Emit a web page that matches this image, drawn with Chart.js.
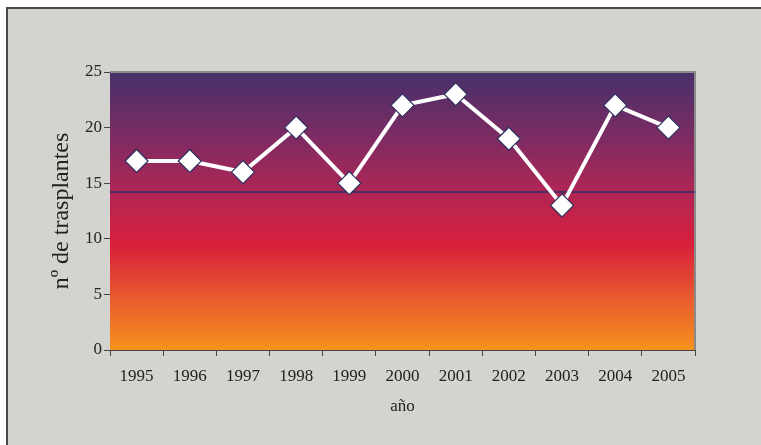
<!DOCTYPE html>
<html>
<head>
<meta charset="utf-8">
<script src="https://cdn.jsdelivr.net/npm/chart.js@4/dist/chart.umd.min.js"></script>
<style>
  html, body { margin: 0; padding: 0; background: #ffffff; overflow: hidden; width: 761px; height: 445px; }
  #marco {
    position: absolute; left: 6px; top: 7px; width: 1200px; height: 900px;
    background: #d3d3cf; border-top: 2px solid #4a4a4a; border-left: 2px solid #4a4a4a;
  }
  #wrap { position: absolute; left: 0; top: 0; width: 761px; height: 445px; }
</style>
</head>
<body>
<div id="marco"></div>
<div id="wrap"><canvas id="graph" width="761" height="445"></canvas></div>
<script>
// datos
var anios = ['1995', '1996', '1997', '1998', '1999', '2000', '2001', '2002', '2003', '2004', '2005'];
var trasplantes = [17, 17, 16, 20, 15, 22, 23, 19, 13, 22, 20];
var nivelRef = 14.2; // línea horizontal de referencia
var ticksY = [0, 5, 10, 15, 20, 25];

var fuente = "'Liberation Serif', 'Times New Roman', serif";

// fondo degradado + marco del área de trazado
var fondoPlugin = {
  id: 'fondo',
  beforeDatasetsDraw: function(chart) {
    var ctx = chart.ctx, a = chart.chartArea;
    var g = ctx.createLinearGradient(0, a.top, 0, a.bottom);
    g.addColorStop(0, '#47306a');
    g.addColorStop(0.25, '#802b62');
    g.addColorStop(0.45, '#b52553');
    g.addColorStop(0.62, '#d81f3b');
    g.addColorStop(0.82, '#e85d2d');
    g.addColorStop(1, '#f7911d');
    ctx.save();
    ctx.fillStyle = g;
    ctx.fillRect(a.left, a.top, a.right - a.left, a.bottom - a.top);
    // borde superior y derecho
    ctx.strokeStyle = '#8a8a8a';
    ctx.lineWidth = 2;
    ctx.beginPath();
    ctx.moveTo(a.left, a.top);
    ctx.lineTo(a.right, a.top);
    ctx.lineTo(a.right, a.bottom);
    ctx.stroke();
    // línea de referencia
    var y = chart.scales.y.getPixelForValue(nivelRef);
    ctx.strokeStyle = '#2b2f6b';
    ctx.lineWidth = 1.5;
    ctx.beginPath();
    ctx.moveTo(a.left, y);
    ctx.lineTo(a.right, y);
    ctx.stroke();
    ctx.restore();
  }
};

var ctx = document.getElementById('graph').getContext('2d');
var grafico = new Chart(ctx, {
  type: 'line',
  data: {
    labels: anios,
    datasets: [{
      data: trasplantes,
      borderColor: '#ffffff',
      borderWidth: 4,
      pointStyle: 'rectRot',
      pointRadius: 11.5,
      pointBackgroundColor: '#ffffff',
      pointBorderColor: '#2e3060',
      pointBorderWidth: 1.2,
      tension: 0,
      fill: false
    }]
  },
  options: {
    responsive: false,
    animation: false,
    layout: { padding: { left: 40, right: 66, top: 72, bottom: 0 } },
    plugins: {
      legend: { display: false },
      tooltip: { enabled: false },
      title: { display: false }
    },
    scales: {
      x: {
        offset: true,
        grid: { display: true, offset: true, drawOnChartArea: false, tickLength: 6, color: '#444', tickColor: '#444' },
        border: { display: true, color: '#444', width: 1 },
        ticks: { color: '#222', font: { family: fuente, size: 17 }, padding: 10, maxRotation: 0 },
        title: { display: true, text: 'año', color: '#222', font: { family: fuente, size: 17 }, padding: { top: 0, bottom: 28 } },
        afterFit: function(s) { s.height = 95; }
      },
      y: {
        min: 0,
        max: 25,
        afterBuildTicks: function(s) { s.ticks = ticksY.map(function(v) { return { value: v }; }); },
        grid: { display: true, drawOnChartArea: false, tickLength: 6, color: '#444', tickColor: '#444' },
        border: { display: true, color: '#444', width: 1 },
        ticks: { color: '#222', font: { family: fuente, size: 17 }, padding: 2 },
        title: { display: true, text: 'nº de trasplantes', color: '#222', font: { family: fuente, size: 24 }, padding: { top: 7, bottom: 0 } },
        afterFit: function(s) { s.width = 70; }
      }
    }
  },
  plugins: [fondoPlugin]
});
</script>
</body>
</html>
